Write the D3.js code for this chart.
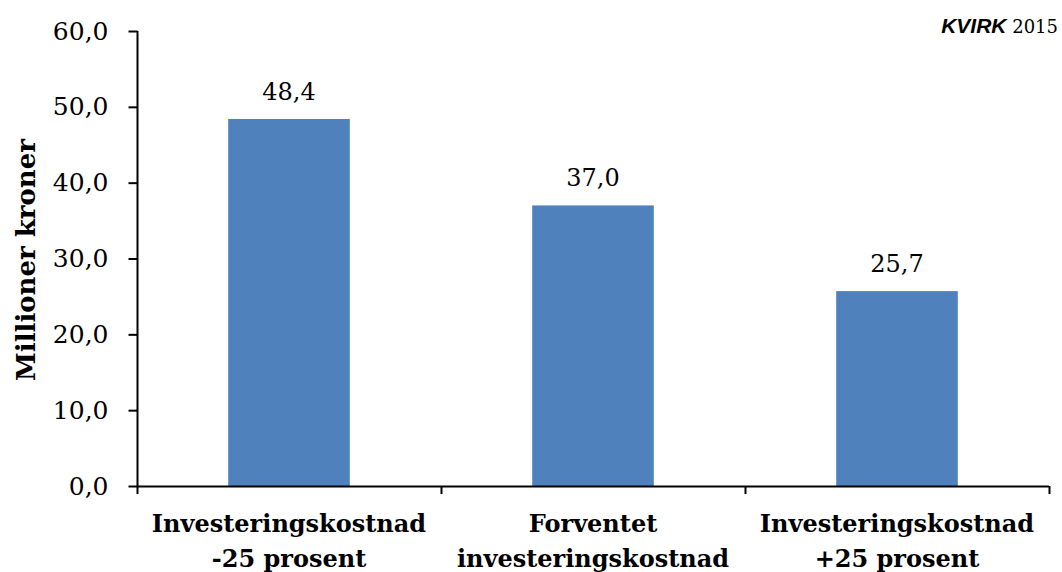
<!DOCTYPE html>
<html>
<head>
<meta charset="utf-8">
<script src="https://cdn.jsdelivr.net/npm/d3@7"></script>
<style>
  html, body { margin: 0; padding: 0; background: #fff; }
  svg { display: block; }
</style>
</head>
<body>
<svg id="chart" width="1062" height="572"></svg>
<script>
// Investment cost scenarios, million NOK
const categories = [
  ["Investeringskostnad", "-25 prosent"],
  ["Forventet", "investeringskostnad"],
  ["Investeringskostnad", "+25 prosent"]
];
const values = [48.4, 37.0, 25.7];
const yTicks = [0, 10, 20, 30, 40, 50, 60];
const yTitle = "Millioner kroner";

const svg = d3.select("#chart");
const serif = "'DejaVu Serif', serif";
const fmt = v => d3.format(".1f")(v).replace(".", ",");

const plot = { left: 137, right: 1049, top: 31, bottom: 486 };

const y = d3.scaleLinear().domain([0, 60]).range([plot.bottom, plot.top]);
const x = d3.scaleBand()
  .domain(d3.range(categories.length))
  .range([plot.left, plot.right])
  .paddingInner(0.6)
  .paddingOuter(0.3);

// Bars
svg.append("g").selectAll("rect")
  .data(values)
  .join("rect")
  .attr("x", (d, i) => x(i))
  .attr("y", d => y(d))
  .attr("width", x.bandwidth())
  .attr("height", d => y(0) - y(d))
  .attr("fill", "#4F81BD");

// Value labels
svg.append("g").selectAll("text")
  .data(values)
  .join("text")
  .attr("x", (d, i) => x(i) + x.bandwidth() / 2)
  .attr("y", d => y(d) - 19)
  .attr("text-anchor", "middle")
  .attr("font-family", serif)
  .attr("font-size", 24)
  .attr("fill", "#000")
  .text(d => fmt(d));

// Y axis
const yAxis = svg.append("g")
  .attr("transform", `translate(${plot.left + 0.5},0)`)
  .call(d3.axisLeft(y).tickValues(yTicks).tickFormat(fmt).tickSize(9).tickPadding(20));
yAxis.select(".domain").attr("stroke", "#000").attr("stroke-width", 2)
  .attr("d", `M0,${plot.top}V${plot.bottom}`);
yAxis.selectAll(".tick line").attr("stroke", "#000").attr("stroke-width", 2);
yAxis.selectAll(".tick text")
  .attr("font-family", serif)
  .attr("font-size", 25)
  .attr("fill", "#000");

// X axis baseline with category separators
const step = x.step();
const edge = (step - x.bandwidth()) / 2;
const bounds = d3.range(categories.length).map(i => x(i) - edge).concat([x(categories.length - 1) + x.bandwidth() + edge]);
const xg = svg.append("g");
xg.append("line")
  .attr("x1", plot.left).attr("x2", plot.right)
  .attr("y1", y(0) + 0.5).attr("y2", y(0) + 0.5)
  .attr("stroke", "#000").attr("stroke-width", 2);
xg.selectAll("line.sep")
  .data(bounds)
  .join("line")
  .attr("class", "sep")
  .attr("x1", d => Math.round(d) + 0.5).attr("x2", d => Math.round(d) + 0.5)
  .attr("y1", y(0)).attr("y2", y(0) + 8)
  .attr("stroke", "#000").attr("stroke-width", 2);

// Category labels (two lines each)
const catText = svg.append("g").selectAll("text")
  .data(categories)
  .join("text")
  .attr("text-anchor", "middle")
  .attr("font-family", serif)
  .attr("font-weight", "bold")
  .attr("font-size", 24)
  .attr("fill", "#000");
catText.selectAll("tspan")
  .data((d, i) => d.map((t, j) => ({ t, j, i })))
  .join("tspan")
  .attr("x", d => x(d.i) + x.bandwidth() / 2)
  .attr("y", d => 532 + d.j * 35)
  .text(d => d.t);

// Y axis title
svg.append("text")
  .attr("transform", "translate(35,260) rotate(-90)")
  .attr("text-anchor", "middle")
  .attr("font-family", serif)
  .attr("font-weight", "bold")
  .attr("font-size", 26)
  .attr("fill", "#000")
  .text(yTitle);

// Source note
const note = svg.append("text")
  .attr("x", 1058)
  .attr("y", 33)
  .attr("text-anchor", "end")
  .attr("fill", "#000");
note.append("tspan")
  .attr("font-family", "'Liberation Sans', Arial, sans-serif")
  .attr("font-weight", "bold")
  .attr("font-style", "italic")
  .attr("font-size", 21)
  .text("KVIRK");
note.append("tspan")
  .attr("font-family", serif)
  .attr("font-size", 18)
  .text(" 2015");
</script>
</body>
</html>
